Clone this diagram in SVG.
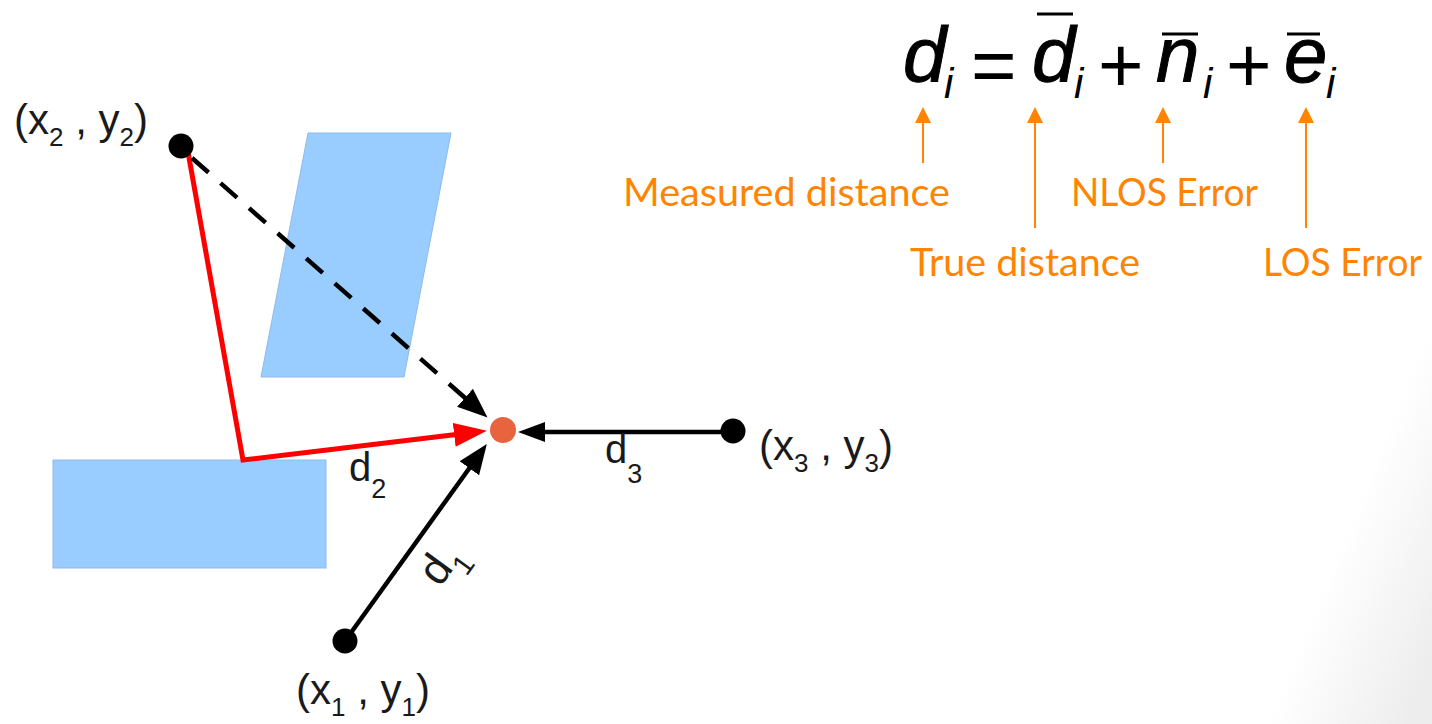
<svg xmlns="http://www.w3.org/2000/svg" width="1432" height="724" viewBox="0 0 1432 724">
<style>
.lbl{font-family:"Liberation Sans",Arial,sans-serif;font-size:42px;fill:#1a1a1a}
.sub{font-size:26px}
.dl{font-family:"Liberation Sans",Arial,sans-serif;font-size:40px;fill:#1a1a1a}
.ds{font-size:27px}
.eq{font-family:"Liberation Sans",Arial,sans-serif;font-style:italic;font-size:78px;fill:#000;stroke:#000;stroke-width:1}
.eqs{font-family:"Liberation Sans",Arial,sans-serif;font-style:italic;font-size:42px;fill:#000}
.op{font-family:"Liberation Sans",Arial,sans-serif;font-size:78px;fill:#000}
.or{font-family:Lato,"Open Sans",sans-serif;font-size:38px;fill:#FF8400}
.obst{fill:#99CCFF;stroke:#8DBBE8;stroke-width:1}
.pt{fill:#000}
.blk{stroke:#000;stroke-width:4.5;fill:none}
.oline{stroke:#FF8400;stroke-width:2;fill:none}
</style>
<defs>
<linearGradient id="bg" gradientUnits="userSpaceOnUse" x1="1340" y1="545" x2="1460" y2="594">
<stop offset="0" stop-color="#ffffff"/>
<stop offset="1" stop-color="#ededed"/>
</linearGradient>
<marker id="ab" markerUnits="userSpaceOnUse" markerWidth="32" markerHeight="26" refX="20" refY="12" orient="auto">
<path d="M0,0 L30,12 L0,24 z" fill="#000"/>
</marker>
<marker id="ab3" markerUnits="userSpaceOnUse" markerWidth="30" markerHeight="22" refX="18" refY="10" orient="auto">
<path d="M0,0 L27,10 L0,20 z" fill="#000"/>
</marker>
<marker id="ar" markerUnits="userSpaceOnUse" markerWidth="36" markerHeight="28" refX="23" refY="12" orient="auto">
<path d="M0,0 L33,12 L0,24 z" fill="#FF0000"/>
</marker>
<marker id="ao" markerUnits="userSpaceOnUse" markerWidth="20" markerHeight="16" refX="10" refY="8" orient="auto">
<path d="M0,0 L16,8 L0,16 z" fill="#FF8400"/>
</marker>
</defs>
<rect x="0" y="0" width="1432" height="724" fill="url(#bg)"/>

<g id="obstacle-1"><polygon class="obst" points="308,133 451,133 404,377 261,377"/></g>
<g id="obstacle-2"><rect class="obst" x="53" y="460" width="273" height="108"/></g>

<g id="connectors">
<path d="M188,152 L243,460 L477,432" stroke="#FF0000" stroke-width="5" fill="none" stroke-linejoin="miter" marker-end="url(#ar)"/>
<path d="M192,158 L480,411" class="blk" stroke-dasharray="22,16" marker-end="url(#ab)"/>
<path d="M345,641 L481,452" class="blk" marker-end="url(#ab)"/>
<path d="M733,432 L527,432" class="blk" marker-end="url(#ab3)"/>
<path d="M923,163 L923,113" class="oline" marker-end="url(#ao)"/>
<path d="M1035,228 L1035,113" class="oline" marker-end="url(#ao)"/>
<path d="M1163,163 L1163,113" class="oline" marker-end="url(#ao)"/>
<path d="M1306,228 L1306,113" class="oline" marker-end="url(#ao)"/>
</g>

<g id="node-x2"><circle class="pt" cx="181" cy="146" r="12.5"/>
<text class="lbl" x="14" y="134">(x<tspan class="sub" dy="12">2</tspan><tspan dy="-12"> , y</tspan><tspan class="sub" dy="12">2</tspan><tspan dy="-12">)</tspan></text></g>
<g id="node-x3"><circle class="pt" cx="733" cy="431" r="12.5"/>
<text class="lbl" x="759" y="460">(x<tspan class="sub" dy="12">3</tspan><tspan dy="-12"> , y</tspan><tspan class="sub" dy="12">3</tspan><tspan dy="-12">)</tspan></text></g>
<g id="node-x1"><circle class="pt" cx="345" cy="641" r="12.5"/>
<text class="lbl" x="296" y="704">(x<tspan class="sub" dy="12">1</tspan><tspan dy="-12"> , y</tspan><tspan class="sub" dy="12">1</tspan><tspan dy="-12">)</tspan></text></g>
<g id="node-target"><circle cx="503" cy="430" r="13" fill="#E8643F"/></g>

<g id="edge-labels">
<text class="dl" x="349" y="481">d<tspan class="ds" dy="17">2</tspan></text>
<text class="dl" x="605" y="463">d<tspan class="ds" dy="20">3</tspan></text>
<text class="dl" style="font-size:44px" transform="translate(440,588) rotate(-54)">d<tspan class="ds" style="font-size:29px" dy="15">1</tspan></text>
</g>

<g id="equation">
<text class="eq" x="903" y="82">d</text>
<text class="eqs" x="944" y="98">i</text>
<text class="op" x="971" y="92">=</text>
<text class="eq" x="1032" y="82">d</text>
<text class="eqs" x="1074" y="98">i</text>
<line x1="1037" y1="14" x2="1073" y2="14" stroke="#000" stroke-width="3"/>
<text class="op" x="1098" y="92">+</text>
<text class="eq" x="1156" y="82">n</text>
<text class="eqs" x="1203" y="98">i</text>
<line x1="1162" y1="34" x2="1198" y2="34" stroke="#000" stroke-width="3"/>
<text class="op" x="1226" y="92">+</text>
<text class="eq" x="1284" y="82">e</text>
<text class="eqs" x="1326" y="98">i</text>
<line x1="1287" y1="34" x2="1320" y2="34" stroke="#000" stroke-width="3"/>
</g>

<g id="annotations">
<text class="or" x="623" y="206" textLength="327" lengthAdjust="spacingAndGlyphs">Measured distance</text>
<text class="or" x="1071" y="206" textLength="187" lengthAdjust="spacingAndGlyphs">NLOS Error</text>
<text class="or" x="910" y="276" textLength="230" lengthAdjust="spacingAndGlyphs">True distance</text>
<text class="or" x="1263" y="276" textLength="159" lengthAdjust="spacingAndGlyphs">LOS Error</text>
</g>
</svg>
